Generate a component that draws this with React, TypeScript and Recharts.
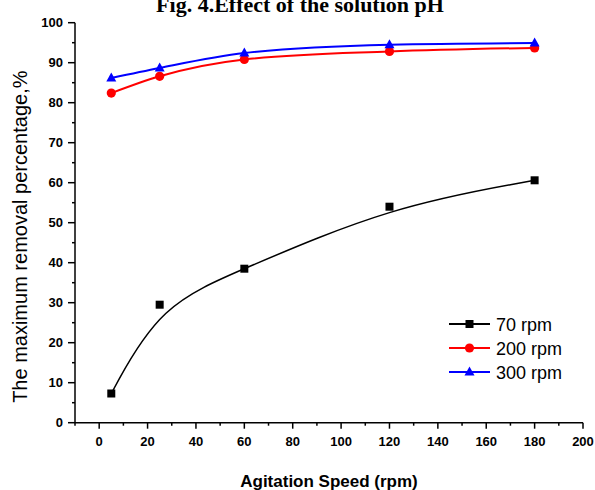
import React from 'react';
import { LineChart, Line, XAxis, YAxis, Legend, Label } from 'recharts';

const speeds: number[] = [5, 25, 60, 120, 180];
const rpm70: number[] = [7.3, 29.5, 38.5, 54.0, 60.6];
const rpm200: number[] = [82.4, 86.6, 90.8, 92.8, 93.7];
const rpm300: number[] = [86.2, 88.7, 92.4, 94.5, 94.9];
const seriesNames: string[] = ['70 rpm', '200 rpm', '300 rpm'];
const seriesColors: string[] = ['#000000', '#ff0000', '#0000ff'];
const xTicks: number[] = [-10, 0, 10, 20, 30, 40, 50, 60, 70, 80, 90, 100, 110, 120, 130, 140, 150, 160, 170, 180, 190, 200];
const yTicks: number[] = [0, 5, 10, 15, 20, 25, 30, 35, 40, 45, 50, 55, 60, 65, 70, 75, 80, 85, 90, 95, 100];
const titleText = 'Fig. 4.Effect of the solution pH';
const xTitle = 'Agitation Speed (rpm)';
const yTitle = 'The maximum removal percentage,%';

const data = speeds.map((s, i) => ({ speed: s, r70: rpm70[i], r200: rpm200[i], r300: rpm300[i] }));

const SANS = '"Liberation Sans", Arial, sans-serif';
const SERIF = '"Liberation Serif", "Times New Roman", serif';

const XTick = (props: any) => {
  const { x, y, payload } = props;
  const v = payload.value;
  const major = v >= 0 && v % 20 === 0;
  return (
    <g>
      <line x1={x} y1={y} x2={x} y2={y + (major ? 6 : 3)} stroke="#000" strokeWidth={1.5} />
      {major && (
        <text x={x} y={y + 23} textAnchor="middle" fontFamily={SANS} fontWeight="bold" fontSize={13} fill="#000">
          {v}
        </text>
      )}
    </g>
  );
};

const YTick = (props: any) => {
  const { x, y, payload } = props;
  const v = payload.value;
  const major = v % 10 === 0;
  return (
    <g>
      <line x1={x} y1={y} x2={x - (major ? 7 : 3)} y2={y} stroke="#000" strokeWidth={1.5} />
      {major && (
        <text x={x - 12} y={y + 4.5} textAnchor="end" fontFamily={SANS} fontWeight="bold" fontSize={13} fill="#000">
          {v}
        </text>
      )}
    </g>
  );
};

const Marker = ({ kind, cx, cy, color }: { kind: number; cx: number; cy: number; color: string }) => {
  if (kind === 0) return <rect x={cx - 4} y={cy - 4} width={8} height={8} fill={color} />;
  if (kind === 1) return <circle cx={cx} cy={cy} r={4.6} fill={color} />;
  return <polygon points={`${cx},${cy - 5.5} ${cx - 5},${cy + 3.5} ${cx + 5},${cy + 3.5}`} fill={color} />;
};

const makeDot = (kind: number, color: string) => (p: any) => (
  <g key={`d-${kind}-${p.index}`}>
    <Marker kind={kind} cx={p.cx} cy={p.cy} color={color} />
  </g>
);

const LegendContent = () => (
  <svg width={140} height={76} style={{ display: 'block' }}>
    {seriesNames.map((name, i) => {
      const cy = 12 + i * 24;
      return (
        <g key={name}>
          <line x1={0} y1={cy} x2={41} y2={cy} stroke={seriesColors[i]} strokeWidth={2} />
          <Marker kind={i} cx={20.5} cy={cy} color={seriesColors[i]} />
          <text x={47} y={cy + 6.5} fontFamily={SANS} fontSize={18} fill="#000">
            {name}
          </text>
        </g>
      );
    })}
  </svg>
);

export default function App() {
  return (
    <div style={{ position: 'absolute', left: 0, top: 0, width: 595, height: 490, overflow: 'hidden', background: '#fff' }}>
      <svg width={595} height={30} style={{ position: 'absolute', left: 0, top: 0 }}>
        <text x={300} y={11.5} textAnchor="middle" fontFamily={SERIF} fontWeight="bold" fontSize={22} fill="#000">
          {titleText}
        </text>
      </svg>
      <div style={{ position: 'absolute', left: 0, top: 0 }}>
        <LineChart width={595} height={490} data={data} margin={{ top: 22.7, right: 12, bottom: 0, left: 0 }}>
          <XAxis
            dataKey="speed"
            type="number"
            domain={[-10, 200]}
            ticks={xTicks}
            interval={0}
            allowDataOverflow
            height={67.3}
            tickSize={0}
            tickMargin={0}
            tickLine={false}
            tick={<XTick />}
            axisLine={{ stroke: '#000', strokeWidth: 1.5 }}
          >
            <Label
              content={(p: any) => (
                <text
                  x={p.viewBox.x + p.viewBox.width / 2}
                  y={p.viewBox.y + p.viewBox.height - 3}
                  textAnchor="middle"
                  fontFamily={SANS}
                  fontWeight="bold"
                  fontSize={17}
                  fill="#000"
                >
                  {xTitle}
                </text>
              )}
            />
          </XAxis>
          <XAxis xAxisId="top" orientation="top" type="number" domain={[-10, 200]} allowDataOverflow height={0} tick={false} tickLine={false} axisLine={{ stroke: '#000', strokeWidth: 1.2 }} />
          <YAxis
            type="number"
            domain={[0, 100]}
            ticks={yTicks}
            interval={0}
            width={75}
            tickSize={0}
            tickMargin={0}
            tickLine={false}
            tick={<YTick />}
            axisLine={{ stroke: '#000', strokeWidth: 1.5 }}
          >
            <Label
              content={(p: any) => (
                <text
                  transform={`translate(27, ${p.viewBox.y + p.viewBox.height / 2 + 14}) rotate(-90)`}
                  textAnchor="middle"
                  fontFamily={SANS}
                  fontSize={20}
                  fill="#000"
                >
                  {yTitle}
                </text>
              )}
            />
          </YAxis>
          <YAxis yAxisId="right" orientation="right" type="number" domain={[0, 100]} width={0} tick={false} tickLine={false} axisLine={{ stroke: '#888', strokeWidth: 1.5 }} />
          <Legend
            layout="vertical"
            align="center"
            verticalAlign="middle"
            content={<LegendContent />}
            wrapperStyle={{ position: 'absolute', left: 449, top: 312, width: 140, height: 76 }}
          />
          <Line type="basis" dataKey="r70" name={seriesNames[0]} stroke={seriesColors[0]} strokeWidth={1.5} dot={makeDot(0, seriesColors[0])} isAnimationActive={false} />
          <Line type="monotone" dataKey="r200" name={seriesNames[1]} stroke={seriesColors[1]} strokeWidth={2} dot={makeDot(1, seriesColors[1])} isAnimationActive={false} />
          <Line type="monotone" dataKey="r300" name={seriesNames[2]} stroke={seriesColors[2]} strokeWidth={2} dot={makeDot(2, seriesColors[2])} isAnimationActive={false} />
        </LineChart>
      </div>
    </div>
  );
}
